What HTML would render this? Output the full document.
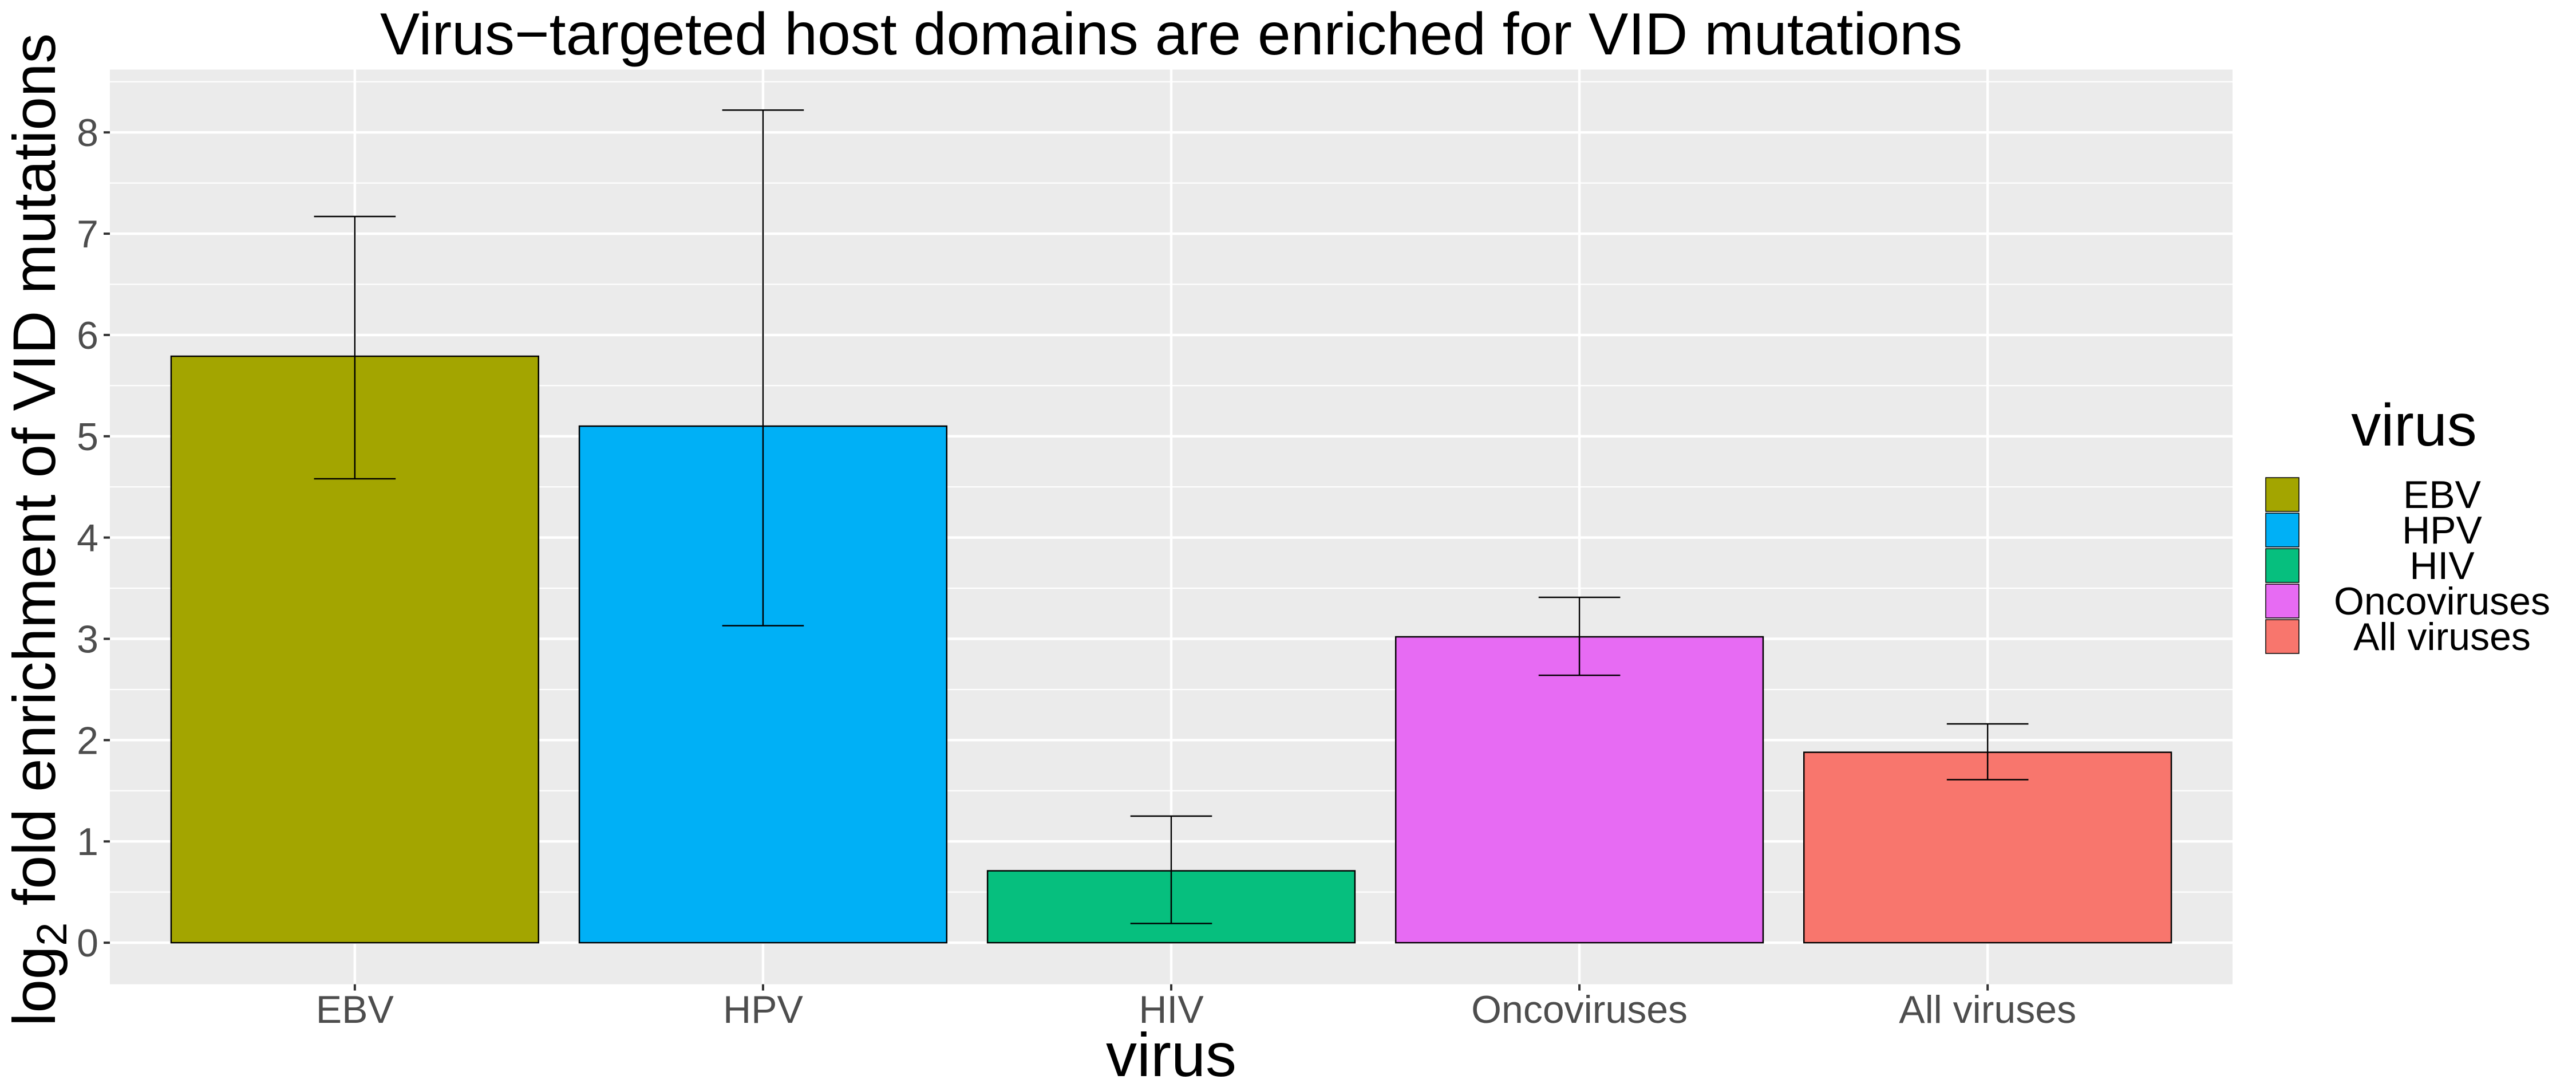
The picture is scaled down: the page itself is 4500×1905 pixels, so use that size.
<!DOCTYPE html>
<html><head><meta charset="utf-8"><style>
html,body{margin:0;padding:0;background:#fff;}
svg{display:block;font-family:"Liberation Sans",Arial,sans-serif;}
</style></head><body>
<svg id="chart" width="4500" height="1905" viewBox="0 0 4500 1905" xmlns="http://www.w3.org/2000/svg">
<rect x="0" y="0" width="4500" height="1905" fill="#fff"/>
<text x="2046" y="95" font-size="104" text-anchor="middle" fill="#000">Virus−targeted host domains are enriched for VID mutations</text>
<g id="panel"></g>
<g id="marks"></g>
<g id="axes"></g>
<text x="2046" y="1879" font-size="108" text-anchor="middle" fill="#000">virus</text>
<text transform="translate(96,925) rotate(-90)" font-size="105" text-anchor="middle" fill="#000">log<tspan font-size="74" dy="20">2</tspan><tspan dy="-20"> fold enrichment of VID mutations</tspan></text>
<g id="legend">
<text x="4217" y="778" font-size="104" text-anchor="middle" fill="#000">virus</text>
</g>
</svg>
<script>
const categories = ["EBV","HPV","HIV","Oncoviruses","All viruses"];
const values = [5.79, 5.10, 0.71, 3.02, 1.88];
const errLow = [4.58, 3.13, 0.19, 2.64, 1.61];
const errHigh = [7.17, 8.22, 1.25, 3.41, 2.16];
const colors = ["#A3A500","#00B0F6","#06BF7E","#E76BF3","#F8766D"];
const yTicks = [0,1,2,3,4,5,6,7,8];

const NS = "http://www.w3.org/2000/svg";
const PL = 192, PR = 3900, PT = 121.5, PB = 1718.6;
const yMin = -0.41, yMax = 8.62;
const xMin = 0.4, xMax = 5.6;
function xs(v){ return PL + (v - xMin) / (xMax - xMin) * (PR - PL); }
function ys(v){ return PB - (v - yMin) / (yMax - yMin) * (PB - PT); }
function mk(tag, attrs, parent){ const e = document.createElementNS(NS, tag); for (const k in attrs) e.setAttribute(k, attrs[k]); parent.appendChild(e); return e; }

const panel = document.getElementById('panel');
const bg = mk('rect', {x:PL, y:PT, width:PR-PL, height:PB-PT, fill:'#EBEBEB'}, panel);


for (let i = 0; i < yTicks.length; i++) {
  const m = yTicks[i] + 0.5;
  if (m < yMax) {
    const g = mk('line', {x1:PL, x2:PR, y1:ys(m), y2:ys(m), stroke:'#fff', 'stroke-width':2.2}, panel);
    
    
  }
}
for (let i = 0; i < yTicks.length; i++) {
  const g = mk('line', {x1:PL, x2:PR, y1:ys(yTicks[i]), y2:ys(yTicks[i]), stroke:'#fff', 'stroke-width':4.4}, panel);
  
  
}
for (let i = 0; i < categories.length; i++) {
  const g = mk('line', {x1:xs(i+1), x2:xs(i+1), y1:PT, y2:PB, stroke:'#fff', 'stroke-width':4.4}, panel);
  
  
}

const marks = document.getElementById('marks');
for (let i = 0; i < categories.length; i++) {
  const x0 = xs(i + 1 - 0.45), x1 = xs(i + 1 + 0.45);
  const top = ys(values[i]), base = ys(0);
  const b = mk('rect', {x:x0, y:top, width:x1-x0, height:base-top, fill:colors[i], stroke:'#000', 'stroke-width':2.5}, marks);
  
  
}
for (let i = 0; i < categories.length; i++) {
  const cx = xs(i + 1), ex0 = xs(i + 1 - 0.1), ex1 = xs(i + 1 + 0.1);
  const eg = mk('g', {stroke:'#000', 'stroke-width':2.5, fill:'none'}, marks);
  
  
  mk('line', {x1:cx, x2:cx, y1:ys(errLow[i]), y2:ys(errHigh[i])}, eg);
  mk('line', {x1:ex0, x2:ex1, y1:ys(errLow[i]), y2:ys(errLow[i])}, eg);
  mk('line', {x1:ex0, x2:ex1, y1:ys(errHigh[i]), y2:ys(errHigh[i])}, eg);
}

const axes = document.getElementById('axes');
for (let i = 0; i < yTicks.length; i++) {
  const y = ys(yTicks[i]);
  const t = mk('line', {x1:PL-11, x2:PL, y1:y, y2:y, stroke:'#333', 'stroke-width':4}, axes);
  
  
  const l = mk('text', {x:PL-20, y:y+24, 'font-size':68, 'text-anchor':'end', fill:'#4D4D4D'}, axes);
  l.textContent = String(yTicks[i]);
  
  
}
for (let i = 0; i < categories.length; i++) {
  const x = xs(i + 1);
  const t = mk('line', {x1:x, x2:x, y1:PB, y2:PB+11, stroke:'#333', 'stroke-width':4}, axes);
  
  
  const l = mk('text', {x:x, y:1786, 'font-size':68, 'text-anchor':'middle', fill:'#4D4D4D'}, axes);
  l.textContent = categories[i];
  
  
}

const legend = document.getElementById('legend');
for (let i = 0; i < categories.length; i++) {
  const y = 834 + i * 62;
  const k = mk('rect', {x:3958, y:y, width:58, height:59, fill:colors[i], stroke:'#000', 'stroke-width':1.5}, legend);
  
  
  const l = mk('text', {x:4266, y:y + 53, 'font-size':68, 'text-anchor':'middle', fill:'#000'}, legend);
  l.textContent = categories[i];
  
  
}
</script>
</body></html>
